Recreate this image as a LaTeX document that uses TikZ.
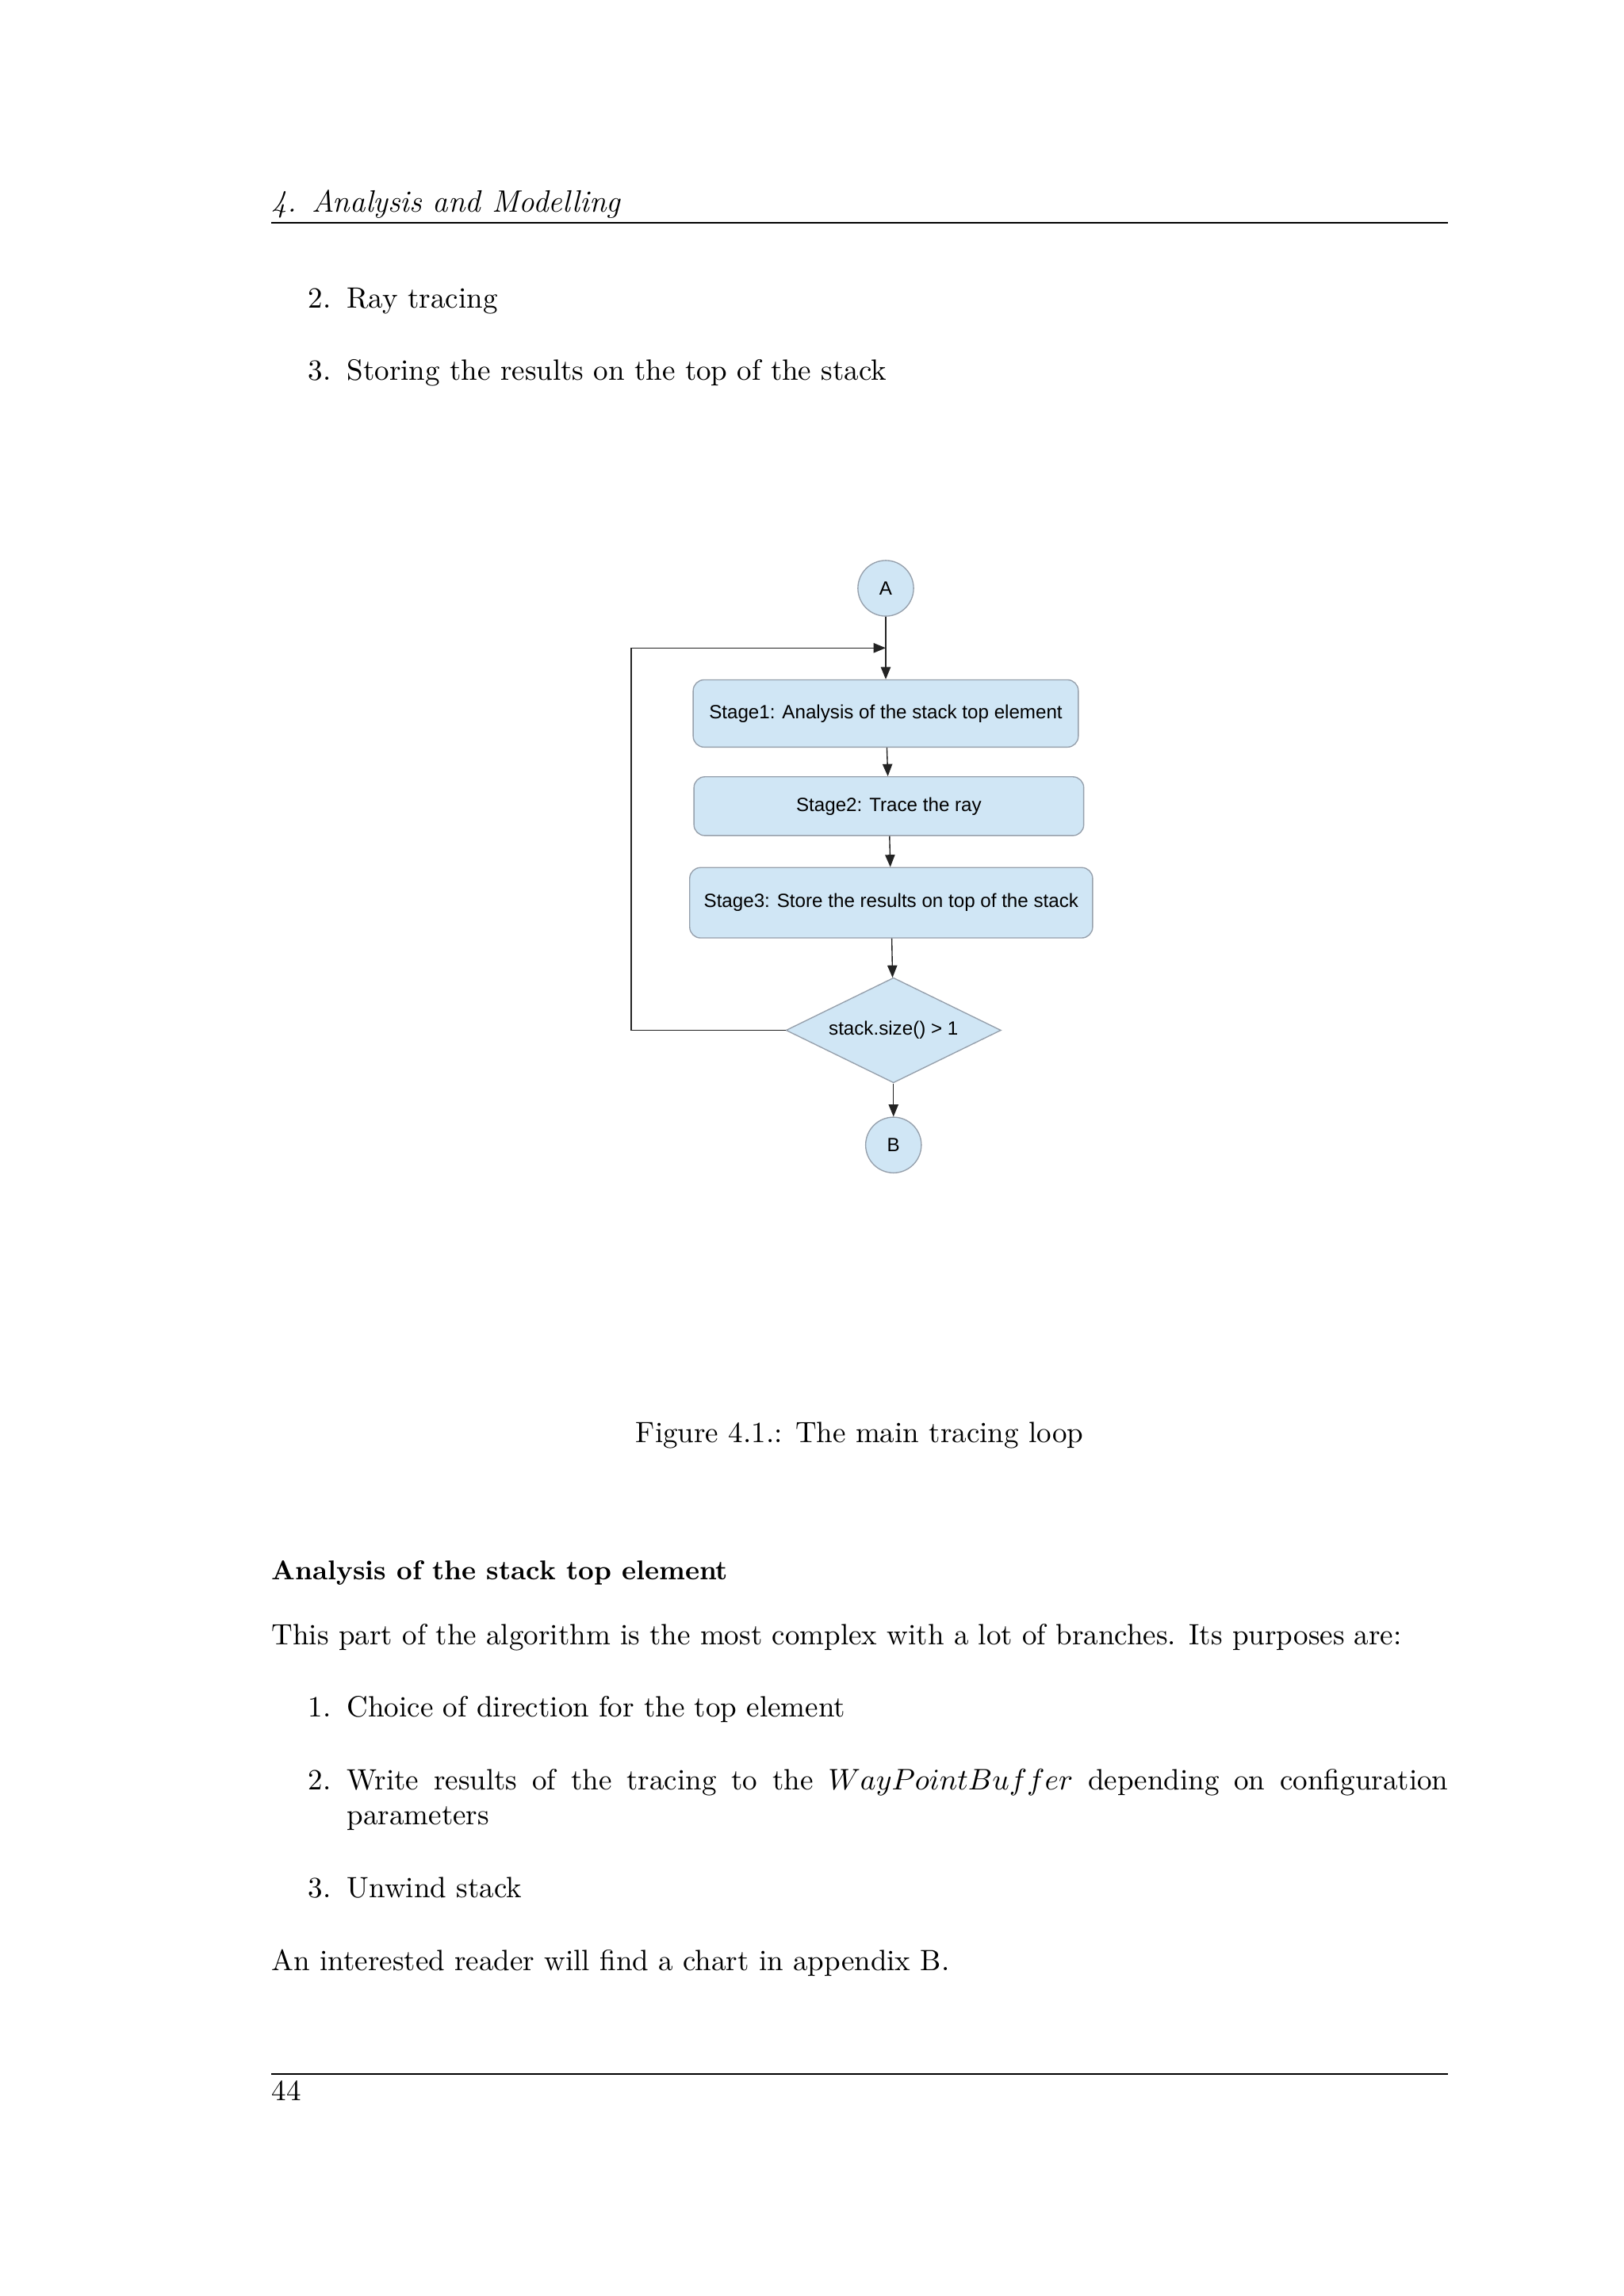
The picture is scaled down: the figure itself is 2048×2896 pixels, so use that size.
\documentclass[tikz,border=0pt]{standalone}
\usepackage{fontspec}
\usepackage{tikz}
\usetikzlibrary{shapes.geometric, arrows.meta, positioning}
\newfontfamily\chartfont{Liberation Sans}
\definecolor{boxblue}{RGB}{208,230,245}
\definecolor{boxline}{RGB}{150,160,172}
\definecolor{flowline}{RGB}{35,35,35}
\newcommand{\bodyfont}{\fontsize{10.8}{12.8}\selectfont}
\newcommand{\chartsize}{\chartfont\fontsize{7.05}{8}\selectfont}

\begin{document}
\begin{tikzpicture}[x=0.0102539cm,y=-0.0102539cm,
	stage node/.style={rectangle,rounded corners=4pt,draw=boxline,fill=boxblue,font=\chartsize,inner sep=2pt},
	end node/.style={circle,draw=boxline,fill=boxblue,font=\chartsize,minimum size=0.72cm,inner sep=0pt},
	decision node/.style={diamond,aspect=2,draw=boxline,fill=boxblue,font=\chartsize,minimum width=2.78cm,minimum height=1.36cm,inner sep=0pt},
	text node/.style={anchor=base west,inner sep=0pt,font=\bodyfont},
	>={Triangle[length=4.5pt,width=3.6pt]},thin]
	% page
	\fill[white] (0,0) rectangle (2048,2896);

	% head of page
	\node[text node,font=\fontsize{11.4}{13}\selectfont\itshape] (head) at (342,267) {4.\enspace Analysis and Modelling};
	\draw[line width=0.6pt] (342,281) -- (1826,281);
	\node[text node] (itemtwonum) at (388,388) {2.};
	\node[text node] (itemtwo) at (437,388) {Ray tracing};
	\node[text node] (itemthreenum) at (388,479) {3.};
	\node[text node] (itemthree) at (437,479) {Storing the results on the top of the stack};

	% the loop
	\node[end node] (A) at (1117,742) {A};
	\node[stage node,minimum width=4.98cm,minimum height=0.87cm] (S1) [below=0.81cm of A] {Stage1: Analysis of the stack top element};
	\node[stage node,minimum width=5.04cm,minimum height=0.76cm] (S2) [below=0.37cm of S1,xshift=0.04cm] {Stage2: Trace the ray};
	\node[stage node,minimum width=5.21cm,minimum height=0.91cm] (S3) [below=0.40cm of S2,xshift=0.03cm] {Stage3: Store the results on top of the stack};
	\node[decision node] (D) [below=0.50cm of S3,xshift=0.03cm] {stack.size() > 1};
	\node[end node] (B) [below=0.43cm of D] {B};

	\path (A.south) -- (S1.north) coordinate[midway] (merge);
	\coordinate (loop) at (796,1300);

	\draw[->,flowline] (A) -- (S1);
	\draw[->,flowline] (S1) -- (S2);
	\draw[->,flowline] (S2) -- (S3);
	\draw[->,flowline] (S3) -- (D);
	\draw[->,flowline] (D) -- (B);
	\draw[->,flowline] (D.west) -- (D.west -| loop) |- (merge);

	\node[anchor=base,inner sep=0pt,font=\bodyfont] (caption) at (1084,1819) {Figure 4.1.: The main tracing loop};

	% text below the figure
	\node[text node,font=\fontsize{10}{12}\selectfont\bfseries] (subsec) at (342,1992) {Analysis of the stack top element};
	\node[text node] (para) at (342,2074) {This part of the algorithm is the most complex with a lot of branches. Its purposes are:};
	\node[text node] (enumonenum) at (388,2165) {1.};
	\node[text node] (enumone) at (437,2165) {Choice of direction for the top element};
	\node[text node] (enumtwonum) at (388,2257) {2.};
	\node[text node] (enumtwo) at (437,2257) {\makebox[14.24cm][s]{Write results of the tracing to the $WayPointBuffer$ depending on configuration}};
	\node[text node] (enumtwomore) at (437,2301) {parameters};
	\node[text node] (enumthreenum) at (388,2393) {3.};
	\node[text node] (enumthree) at (437,2393) {Unwind stack};
	\node[text node] (closing) at (342,2485) {An interested reader will find a chart in appendix B.};

	% foot of page
	\draw[line width=0.6pt] (342,2616) -- (1826,2616);
	\node[text node] (pagenum) at (342,2649) {44};
\end{tikzpicture}
\end{document}
